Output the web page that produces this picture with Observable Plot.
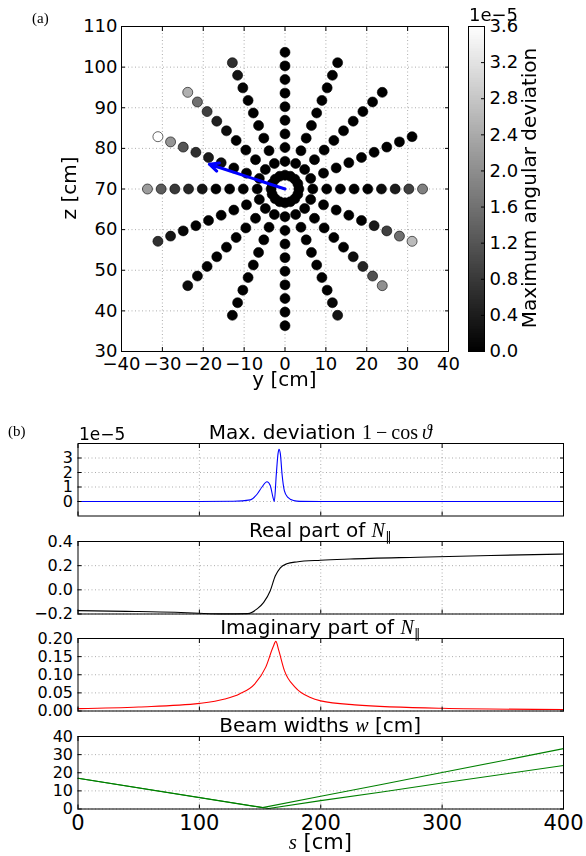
<!DOCTYPE html>
<html><head><meta charset="utf-8">
<script src="https://cdn.jsdelivr.net/npm/d3@7"></script>
<script src="https://cdn.jsdelivr.net/npm/@observablehq/plot@0.6"></script>
<style>
body{margin:0;background:#fff;}
#root{position:relative;width:586px;height:856px;overflow:hidden;background:#fff;}
#root svg{position:absolute;overflow:visible;}
</style></head><body><div id="root"></div>
<script>
const root = document.getElementById("root");
const SANS = "'DejaVu Sans',sans-serif";
const SERIF = "'Liberation Serif','DejaVu Serif',serif";

// ---------- panel (a) data ----------
const rayAngles = [0, 22.5, 45, 67.5, 90, 112.5, 135, 157.5, 180, 202.5, 225, 247.5, 270, 292.5, 315, 337.5]; // deg
const rayRadii = [3.4, 6.8, 10.2, 13.55, 16.9, 20.25, 23.6, 26.95, 30.3, 33.65]; // cm
// maximum angular deviation (x 1e-5) per ray (rows follow rayAngles) and radius (columns follow rayRadii)
const rayDeviation = [
  [0, 0, 0, 0, 0, 0, 0.15, 0.4, 0.9, 1.8],
  [0, 0, 0, 0, 0, 0, 0, 0, 0, 0],
  [0, 0, 0, 0, 0, 0, 0, 0, 0, 0],
  [0, 0, 0, 0, 0, 0, 0, 0, 0, 0],
  [0, 0, 0, 0, 0, 0, 0, 0, 0, 0],
  [0, 0, 0, 0, 0, 0, 0, 0.1, 0.3, 0.68],
  [0, 0, 0, 0, 0, 0.2, 0.45, 0.9, 1.58, 2.48],
  [0, 0, 0, 0, 0.2, 0.4, 0.65, 1.2, 2.1, 3.6],
  [0, 0, 0, 0, 0, 0.3, 0.55, 0.8, 1.3, 2.2],
  [0, 0, 0, 0, 0, 0, 0, 0.1, 0.3, 0.68],
  [0, 0, 0, 0, 0, 0, 0, 0, 0.05, 0.15],
  [0, 0, 0, 0, 0, 0, 0, 0, 0, 0],
  [0, 0, 0, 0, 0, 0, 0, 0, 0, 0],
  [0, 0, 0, 0, 0, 0, 0, 0, 0.1, 0.3],
  [0, 0, 0, 0, 0, 0, 0.2, 0.5, 1.13, 2.03],
  [0, 0, 0, 0, 0, 0, 0.35, 0.9, 1.58, 2.64]
];
const launchPoint = [0, 70];     // y, z [cm]
const arrowTip = [-18.5, 76.1];  // y, z [cm]
const aTicksY = [-40, -30, -20, -10, 0, 10, 20, 30, 40];
const aTicksZ = [30, 40, 50, 60, 70, 80, 90, 100, 110];
const cbTicks = [0, 0.4, 0.8, 1.2, 1.6, 2.0, 2.4, 2.8, 3.2, 3.6];
const cbDomain = [0, 3.6];

// ---------- panel (b) data ----------
const sTicks = [0, 100, 200, 300, 400];
const devS = [0, 100, 128, 142, 147.5, 151.6, 155.7, 158.4, 160.6, 161.7, 163.4, 164.8, 165.6, 166.7, 168.1, 170, 172.7, 177.6, 183, 200, 400];
const devV = [0, 0, 0.02, 0.11, 0.5, 1.0, 1.36, 1.1, 0.3, 0, 1.9, 3.3, 3.6, 3.3, 1.9, 0.75, 0.3, 0.07, 0.01, 0, 0]; // x 1e-5
const devTicks = [0, 1, 2, 3];
const reS = [0, 40, 80, 100, 120, 140, 147.5, 153, 158.4, 162.5, 166.7, 172, 180, 200, 224, 280, 340, 400];
const reV = [-0.172, -0.178, -0.186, -0.194, -0.199, -0.197, -0.158, -0.104, -0.008, 0.114, 0.182, 0.215, 0.231, 0.245, 0.255, 0.27, 0.284, 0.296];
const reTicks = [-0.2, 0.0, 0.2, 0.4];
const imS = [0, 50, 100, 121, 133, 145.5, 154.7, 160.8, 163, 165.4, 170, 179, 191.5, 200, 228, 300, 400];
const imV = [0.0065, 0.011, 0.021, 0.033, 0.047, 0.074, 0.121, 0.177, 0.192, 0.167, 0.112, 0.065, 0.037, 0.028, 0.017, 0.0075, 0.004];
const imTicks = [0, 0.05, 0.10, 0.15, 0.20];
const beamS1 = [0, 152, 200, 249, 300, 400];
const beamW1 = [17, 0.75, 7.0, 13.4, 20.1, 33.3];
const beamS2 = [0, 157, 200, 249, 300, 400];
const beamW2 = [17, 0.3, 4.6, 9.2, 14.3, 24.0];
const beamTicks = [0, 10, 20, 30, 40];

// ---------- helpers ----------
const gridStyle = {stroke: "#000", strokeOpacity: 0.55, strokeWidth: 0.6, strokeDasharray: "1,2.5"};
const blank = () => "";
function place(svg, left, top) {
  svg.style.left = left + "px";
  svg.style.top = top + "px";
  root.append(svg);
}
function innerTicks(xt, yt, sides = ["bottom", "top", "left", "right"]) {
  const m = [];
  if (xt) for (const a of ["bottom", "top"]) if (sides.includes(a)) m.push(Plot.axisX(xt, {anchor: a, tickSize: -4, tickFormat: blank, label: null}));
  if (yt) for (const a of ["left", "right"]) if (sides.includes(a)) m.push(Plot.axisY(yt, {anchor: a, tickSize: -4, tickFormat: blank, label: null}));
  return m;
}

// ---------- panel (a): scatter ----------
const spots = [];
rayRadii.forEach((r, j) => rayAngles.forEach((a, i) => spots.push({
  y: launchPoint[0] + r * Math.cos(a * Math.PI / 180),
  z: launchPoint[1] + r * Math.sin(a * Math.PI / 180),
  dev: rayDeviation[i][j]
})));
const colorScale = {type: "linear", domain: cbDomain, range: ["#000000", "#ffffff"]};

const mainA = Plot.plot({
  width: 460, height: 400,
  marginLeft: 121, marginRight: 12, marginTop: 26, marginBottom: 49,
  x: {domain: [-40, 40], label: null},
  y: {domain: [30, 110], label: null},
  color: colorScale,
  style: {fontFamily: SANS, fontSize: "18px", background: "transparent", overflow: "visible", color: "#000"},
  marks: [
    Plot.gridX(aTicksY, gridStyle),
    Plot.gridY(aTicksZ, gridStyle),
    Plot.dot(spots, {x: "y", y: "z", r: 5, fill: "dev", stroke: "#000", strokeWidth: 0.6}),
    Plot.arrow([{x1: launchPoint[0], y1: launchPoint[1], x2: arrowTip[0], y2: arrowTip[1]}],
      {x1: "x1", y1: "y1", x2: "x2", y2: "y2", stroke: "#0000ff", strokeWidth: 3, headLength: 5, headAngle: 50}),
    Plot.frame({stroke: "#000"}),
    Plot.axisX(aTicksY, {tickSize: 0, tickPadding: 6, label: null, fontSize: 18}),
    Plot.axisY(aTicksZ, {tickSize: 0, tickPadding: 4, label: null, fontSize: 18}),
    ...innerTicks(aTicksY, aTicksZ)
  ]
});
place(mainA, 0, 0);

// ---------- colorbar ----------
const cbRamp = d3.range(0, 3.6, 0.02);
const cbar = Plot.plot({
  width: 146, height: 400,
  marginLeft: 28, marginRight: 102, marginTop: 26, marginBottom: 49,
  y: {domain: cbDomain, label: null},
  color: colorScale,
  style: {fontFamily: SANS, fontSize: "18px", background: "transparent", overflow: "visible", color: "#000"},
  marks: [
    Plot.rect(cbRamp, {y1: d => d, y2: d => Math.min(3.6, d + 0.03), fill: d => d + 0.01, shapeRendering: "crispEdges"}),
    Plot.frame({stroke: "#000"}),
    Plot.axisY(cbTicks, {anchor: "right", tickSize: 0, tickPadding: 5, tickFormat: d3.format(".1f"), label: null, fontSize: 18}),
    Plot.axisY(cbTicks, {anchor: "right", tickSize: -4, tickFormat: blank, label: null})
  ]
});
place(cbar, 440, 0);

// ---------- panel (b): four stacked axes ----------
const axesTops = [443, 540.5, 638, 735.5];
const axesH = 72.5;
function subplot(i, yDomain, yTicks, yFormat, marks, showX) {
  const mt = 14, mb = showX ? 50 : 14;
  const chart = Plot.plot({
    width: 586, height: axesH + mt + mb,
    marginLeft: 77.5, marginRight: 23, marginTop: mt, marginBottom: mb,
    x: {domain: [0, 400], label: null},
    y: {domain: yDomain, label: null},
    style: {fontFamily: SANS, fontSize: "16px", background: "transparent", overflow: "visible", color: "#000"},
    marks: [
      Plot.gridX([100, 200, 300], gridStyle),
      Plot.gridY(yTicks, gridStyle),
      ...marks,
      Plot.frame({stroke: "#000"}),
      Plot.axisY(yTicks, {tickSize: 0, tickPadding: 5, tickFormat: yFormat, label: null, fontSize: 16}),
      showX ? Plot.axisX(sTicks, {tickSize: 0, tickPadding: 6, label: null, fontSize: 21}) : null,
      ...innerTicks(sTicks, yTicks)
    ]
  });
  place(chart, 0, axesTops[i] - mt);
}
const zip = (xs, ys) => xs.map((s, k) => ({s, v: ys[k]}));
const lineOpts = (color) => ({x: "s", y: "v", stroke: color, strokeWidth: 1.1, curve: "monotone-x"});

subplot(0, [-1, 4], devTicks, d3.format("d"), [Plot.line(zip(devS, devV), lineOpts("#0000ff"))], false);
subplot(1, [-0.2, 0.4], reTicks, d3.format(".1f"), [Plot.line(zip(reS, reV), lineOpts("#000000"))], false);
subplot(2, [0, 0.2], imTicks, d3.format(".2f"), [Plot.line(zip(imS, imV), lineOpts("#ff0000"))], false);
subplot(3, [0, 40], beamTicks, d3.format("d"), [
  Plot.line(zip(beamS1, beamW1), {x: "s", y: "v", stroke: "#008000", strokeWidth: 1.1}),
  Plot.line(zip(beamS2, beamW2), {x: "s", y: "v", stroke: "#008000", strokeWidth: 1.1})
], true);

// ---------- annotation layer (titles, axis labels) ----------
const ann = d3.select(root).append("svg")
  .attr("width", 586).attr("height", 856)
  .style("left", "0px").style("top", "0px").style("pointer-events", "none")
  .style("will-change", "transform");
function txt(x, y, parts, {size = 20, anchor = "start", rotate = 0, family = SANS} = {}) {
  const t = ann.append("text")
    .attr("transform", `translate(${x},${y}) rotate(${rotate})`)
    .attr("text-anchor", anchor)
    .attr("font-family", family).attr("font-size", size).attr("fill", "#000");
  for (const p of parts) {
    const o = typeof p === "string" ? {t: p} : p;
    const ts = t.append("tspan").text(o.t);
    if (o.serif) ts.attr("font-family", SERIF);
    if (o.dsans) ts.attr("font-family", "'DejaVu Sans'");
    if (o.italic) ts.attr("font-style", "italic");
    if (o.size) ts.attr("font-size", o.size);
    if (o.dy) ts.attr("dy", o.dy);
  }
  return t;
}
txt(32, 23, ["(a)"], {size: 15, family: SERIF});
txt(8, 436, ["(b)"], {size: 15, family: SERIF});
txt(76, 188, ["z [cm]"], {anchor: "middle", rotate: -90});
txt(284.5, 386, ["y [cm]"], {anchor: "middle"});
txt(536, 188, ["Maximum angular deviation"], {anchor: "middle", rotate: -90});
txt(469, 21, ["1e\u22125"], {size: 18});
txt(79, 440, ["1e\u22125"], {size: 17});
const mid = {anchor: "middle"};
txt(320.25, 439, ["Max. deviation  ", {t: "1\u2009\u2212\u2009cos\u2009", serif: true}, {t: "\u03d1", serif: true, italic: true}], mid);
txt(320.25, 536.5, ["Real part of ", {t: "N", serif: true, italic: true}, {t: "\u2225", dsans: true, size: 13, dy: 4}], mid);
txt(320.25, 634, ["Imaginary part of ", {t: "N", serif: true, italic: true}, {t: "\u2225", dsans: true, size: 13, dy: 4}], mid);
txt(320.25, 731.5, ["Beam widths  ", {t: "w", serif: true, italic: true}, " [cm]"], mid);
txt(320.25, 849, [{t: "s", serif: true, italic: true}, " [cm]"], {size: 21, anchor: "middle"});
</script></body></html>
